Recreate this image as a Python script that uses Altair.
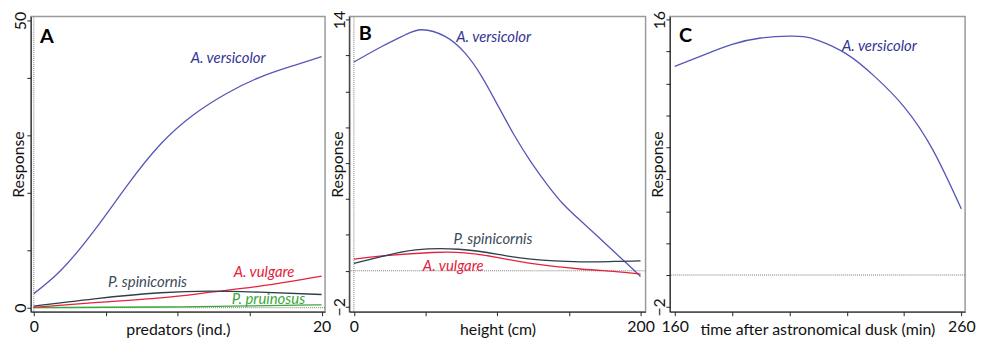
import altair as alt
import pandas as pd

FONT = "Lato"
C_VERS_LINE = "#5656b8"
C_VERS_TEXT = "#343494"
C_SPIN_LINE = "#2e3d4c"
C_SPIN_TEXT = "#3b4b5a"
C_VULG = "#e5213c"
C_PRUI = "#3aa83a"

# ---------------- Panel A : predators ----------------
A_X = [0, 1.92, 4.22, 6.52, 8.82, 11.1, 13.4, 15.7, 18.0, 20]
A_VERS = [2.45, 6.6, 13.5, 21.4, 28.5, 33.6, 37.3, 40.1, 42.1, 43.7]
A_X2 = [0, 4.22, 8.82, 12.3, 15.7, 20]
A_SPIN = [0.29, 1.55, 2.6, 2.9, 2.7, 2.3]
A_VULG = [0.05, 0.87, 1.7, 2.7, 3.75, 5.5]
A_X3 = [0, 5, 10, 15, 20]
A_PRUI = [0.0, 0.08, 0.15, 0.3, 0.5]
A_XTICKS = [0, 5, 10, 15, 20]
A_YTICKS = [0, 10, 20, 30, 40, 50]
A_XDOM = [-0.21, 20.24]
A_YDOM = [-0.7, 50.7]

# ---------------- Panel B : height ----------------
B_X = [0, 19.8, 35.9, 47.5, 63.6, 77.4, 88.9, 100.5, 112, 123.5, 135, 146, 158, 170, 181, 191, 200]
B_VERS = [11.63, 12.51, 13.15, 13.43, 13.06, 12.14, 10.86, 9.2, 7.54, 6.07, 4.79, 3.72,
          2.8, 1.92, 1.1, 0.36, -0.32]
B_X2 = [0, 19.8, 43, 73, 100.5, 123.5, 158, 181, 200]
B_SPIN = [0.41, 0.8, 1.16, 1.2, 0.92, 0.65, 0.5, 0.52, 0.55]
B_X3 = [0, 19.8, 54.5, 77.4, 100.5, 123.5, 158, 181, 200]
B_VULG = [0.65, 0.83, 1.02, 1.0, 0.74, 0.41, 0.1, -0.03, -0.18]
B_XTICKS = [0, 50, 100, 150, 200]
B_YTICKS = [-2, 0, 2, 4, 6, 8, 10, 12, 14]
B_XDOM = [-3.2, 203.5]
B_YDOM = [-2.28, 14.17]

# ---------------- Panel C : time ----------------
C_X = [160, 170, 180, 190, 200, 205, 210, 220, 230, 240, 250, 260]
C_VERS = [13.07, 13.78, 14.45, 14.85, 14.97, 14.93, 14.7, 13.84, 12.4, 10.54, 7.86, 4.14]
C_XTICKS = [160, 180, 200, 220, 240, 260]
C_YTICKS = [-2, 0, 2, 4, 6, 8, 10, 12, 14, 16]
C_XDOM = [158.3, 261.3]
C_YDOM = [-2.3, 16.2]

# labels: (text, x, y, colour)
A_LABELS = [("A. versicolor", 13.5, 43.5, C_VERS_TEXT),
            ("P. spinicornis", 7.9, 4.5, C_SPIN_TEXT),
            ("A. vulgare", 16.0, 6.2, C_VULG),
            ("P. pruinosus", 16.3, 1.45, C_PRUI)]
B_LABELS = [("A. versicolor", 97.5, 13.0, C_VERS_TEXT),
            ("P. spinicornis", 97, 1.75, C_SPIN_TEXT),
            ("A. vulgare", 69.3, 0.28, C_VULG)]
C_LABELS = [("A. versicolor", 231.4, 14.35, C_VERS_TEXT)]
LETTERS = [("A", 0.9, 47.1), ("B", 8.0, 13.2), ("C", 163.8, 15.0)]

W = [297, 299, 298]
H = 298


def series(xs, ys):
    return pd.DataFrame({"x": xs, "y": ys})


def panel(lines, labels, letter, xdom, ydom, xticks, yticks, xtitle, vline, width):
    xlo, xhi = xticks[0], xticks[-1]
    ylo, yhi = yticks[0], yticks[-1]
    xs = alt.Scale(domain=xdom, nice=False, zero=False)
    ys = alt.Scale(domain=ydom, nice=False, zero=False)
    xaxis = alt.Axis(values=xticks,
                     labelExpr=f"datum.value == {xlo} || datum.value == {xhi} ? datum.label : ''",
                     tickSize=4, labelPadding=3, labelAngle=0, labelBaseline="top",
                     labelFlush=False, labelOverlap=False,
                     title=xtitle, titleY=23, titleBaseline="alphabetic")
    yaxis = alt.Axis(values=yticks,
                     labelExpr=f"datum.value == {ylo} || datum.value == {yhi} ? datum.label : ''",
                     tickSize=4, labelPadding=1, labelAngle=270, labelAlign="center",
                     labelBaseline="alphabetic", labelFlush=False, labelOverlap=False,
                     title="Response", titleX=-7, titleY=H / 2, titleAngle=270,
                     titleAlign="center", titleBaseline="alphabetic")
    layers = []
    zero = alt.Chart(pd.DataFrame({"y": [0]})).mark_rule(
        color="#7a7a7a", strokeDash=[1, 1], strokeWidth=1).encode(
        y=alt.Y("y:Q", scale=ys, axis=yaxis))
    layers.append(zero)
    if vline:
        vl = alt.Chart(pd.DataFrame({"x": [0]})).mark_rule(
            color="#7a7a7a", strokeDash=[1, 1], strokeWidth=1).encode(
            x=alt.X("x:Q", scale=xs, axis=xaxis))
        layers.append(vl)
    for df, col in lines:
        layers.append(alt.Chart(df).mark_line(
            color=col, strokeWidth=1.3, interpolate="natural").encode(
            x=alt.X("x:Q", scale=xs, axis=xaxis),
            y=alt.Y("y:Q", scale=ys, axis=yaxis)))
    for text, lx, ly, col in labels:
        layers.append(alt.Chart(pd.DataFrame({"x": [lx], "y": [ly], "t": [text]})).mark_text(
            font=FONT, fontSize=15, fontStyle="italic", color=col,
            align="center", baseline="middle").encode(
            x=alt.X("x:Q", scale=xs, axis=xaxis),
            y=alt.Y("y:Q", scale=ys, axis=yaxis), text="t:N"))
    t, lx, ly = letter
    layers.append(alt.Chart(pd.DataFrame({"x": [lx], "y": [ly], "t": [t]})).mark_text(
        font=FONT, fontSize=20, fontWeight="bold", color="black",
        align="center", baseline="middle").encode(
        x=alt.X("x:Q", scale=xs, axis=xaxis),
        y=alt.Y("y:Q", scale=ys, axis=yaxis), text="t:N"))
    return alt.layer(*layers).properties(width=width, height=H)


pA = panel([(series(A_X, A_VERS), C_VERS_LINE), (series(A_X3, A_PRUI), C_PRUI),
            (series(A_X2, A_VULG), C_VULG), (series(A_X2, A_SPIN), C_SPIN_LINE)],
           A_LABELS, LETTERS[0], A_XDOM, A_YDOM, A_XTICKS, A_YTICKS,
           "predators (ind.)", True, W[0])
pB = panel([(series(B_X, B_VERS), C_VERS_LINE), (series(B_X3, B_VULG), C_VULG),
            (series(B_X2, B_SPIN), C_SPIN_LINE)],
           B_LABELS, LETTERS[1], B_XDOM, B_YDOM, B_XTICKS, B_YTICKS,
           "height  (cm)", True, W[1])
pC = panel([(series(C_X, C_VERS), C_VERS_LINE)],
           C_LABELS, LETTERS[2], C_XDOM, C_YDOM, C_XTICKS, C_YTICKS,
           "time after astronomical dusk (min)", False, W[2])

chart = alt.hconcat(pA, pB, pC, spacing=24.5, bounds="flush",
                    padding={"left": 2, "top": 0, "right": 0, "bottom": 0}).configure_view(
    stroke="#9a9a9a", strokeWidth=1.5
).configure_axis(
    grid=False, domainColor="#222222", tickColor="#222222", domainWidth=1,
    labelFont=FONT, titleFont=FONT, labelFontSize=16, titleFontSize=16,
    titleFontWeight="normal", labelColor="#111111", titleColor="#111111"
)

chart.save("out.html", embed_options={"renderer": "svg", "actions": False})
